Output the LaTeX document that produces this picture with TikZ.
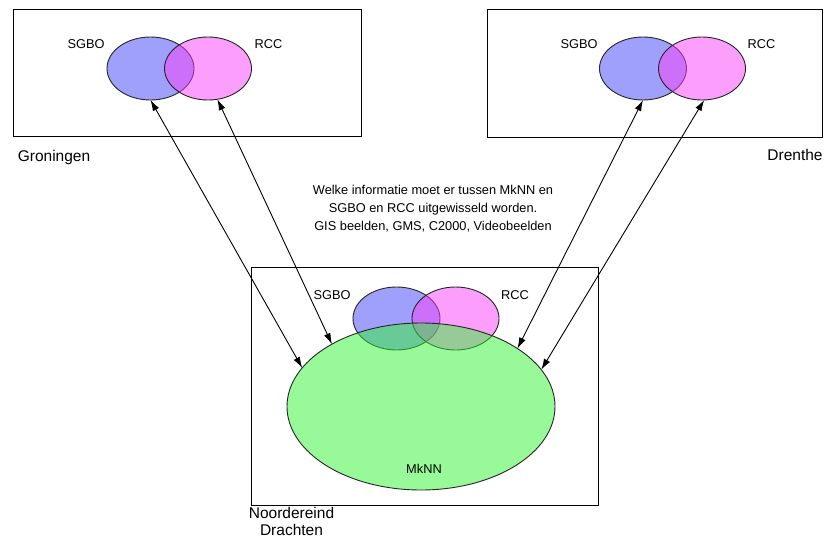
\documentclass[tikz,border=0pt]{standalone}
\usepackage{fontspec}
\setmainfont{Liberation Sans}
\usetikzlibrary{shapes.geometric,arrows.meta}
\definecolor{sgbofill}{RGB}{65,65,250}
\definecolor{rccfill}{RGB}{250,65,250}
\definecolor{mknnfill}{RGB}{50,245,50}
\begin{document}
\begin{tikzpicture}[x=1pt,y=-1pt,
  frame/.style={draw=black,line width=0.9pt},
  blob/.style={ellipse,draw=black!85,line width=0.9pt,inner sep=0pt,outer sep=0pt,fill opacity=0.5},
  small/.style={blob,minimum width=87pt,minimum height=63pt},
  lbl/.style={inner sep=0pt,font=\fontsize{12.8}{15}\selectfont},
  place/.style={inner sep=0pt,font=\fontsize{15.5}{18}\selectfont},
  link/.style={line width=0.9pt,{Latex[length=11pt,width=7pt]}-{Latex[length=11pt,width=7pt]}}
]
\useasboundingbox (0,0) rectangle (824,538);
\fill[white] (0,0) rectangle (824,538);
% boxes
\node[frame,minimum width=348pt,minimum height=127pt,inner sep=0pt,anchor=north west] (gbox) at (13,9) {};
\node[frame,minimum width=335pt,minimum height=128pt,inner sep=0pt,anchor=north west] (dbox) at (487,9) {};
\node[frame,minimum width=347pt,minimum height=238pt,inner sep=0pt,anchor=north west] (nbox) at (251,267) {};
% Groningen ellipses
\node[small,fill=sgbofill] (gs) at (150.5,68.5) {};
\node[small,fill=rccfill] (gr) at (208,68.5) {};
% Drenthe ellipses
\node[small,fill=sgbofill] (ds) at (643,68.5) {};
\node[small,fill=rccfill] (dr) at (702,68.5) {};
% Noordereind ellipses
\node[small,fill=sgbofill] (ns) at (396.5,318.5) {};
\node[small,fill=rccfill] (nr) at (455.5,318.5) {};
\node[blob,fill=mknnfill,minimum width=268pt,minimum height=167pt] (mk) at (421,406.5) {};
% labels
\node[lbl] (gsl) at (86,44) {SGBO};
\node[lbl] (grl) at (268.5,44) {RCC};
\node[lbl] (dsl) at (579,44) {SGBO};
\node[lbl] (drl) at (761.5,44) {RCC};
\node[lbl] (nsl) at (332,295) {SGBO};
\node[lbl] (nrl) at (515,295) {RCC};
\node[lbl] (mkl) at (424,469) {MkNN};
\node[place] (gl) at (54,157) {Groningen};
\node[place] (dl) at (795,155) {Drenthe};
\node[place,align=center,font=\fontsize{15.5}{17}\selectfont] (nl) at (291.5,521.5) {Noordereind\\Drachten};
\node[lbl,align=center,font=\fontsize{12.8}{18}\selectfont] (q) at (433,209) {Welke informatie moet er tussen MkNN en\\SGBO en RCC uitgewisseld worden.\\GIS beelden, GMS, C2000, Videobeelden};
% connectors
\draw[link] (gs.south) -- (mk.162.5);
\draw[link] (gr.-73) -- (mk.145.7);
\draw[link] (ds.south) -- (mk.31.8);
\draw[link] (dr.-86.5) -- (mk.17.7);
\end{tikzpicture}
\end{document}
